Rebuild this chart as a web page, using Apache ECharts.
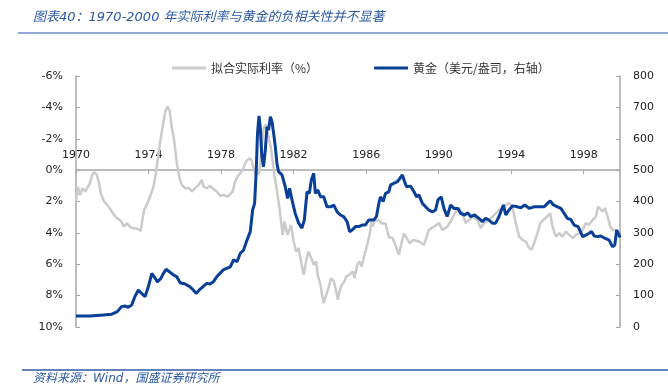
<!DOCTYPE html>
<html><head><meta charset="utf-8">
<script src="https://cdn.jsdelivr.net/npm/echarts@6/dist/echarts.min.js"></script>
<style>html,body{margin:0;padding:0;background:#fff}#c{width:668px;height:390px}</style>
</head><body><div id="c"></div>
<script>
var titleText = '图表40：1970-2000 年实际利率与黄金的负相关性并不显著';
var sourceText = '资料来源：Wind，国盛证券研究所';
var legendRate = '拟合实际利率（%）';
var legendGold = '黄金（美元/盎司，右轴）';
var xTickYears = [1970, 1974, 1978, 1982, 1986, 1990, 1994, 1998];
var leftTicks = [-6, -4, -2, 0, 2, 4, 6, 8, 10];
var rightTicks = [0, 100, 200, 300, 400, 500, 600, 700, 800];

var rateYears = [1970.0,1970.1,1970.22,1970.35,1970.5,1970.62,1970.76,1970.9,1971.0,1971.14,1971.27,1971.36,1971.55,1971.73,1971.92,1972.1,1972.28,1972.47,1972.65,1972.8,1973.02,1973.2,1973.39,1973.57,1973.66,1973.76,1973.9,1974.05,1974.2,1974.3,1974.42,1974.55,1974.73,1974.92,1975.05,1975.16,1975.29,1975.41,1975.56,1975.71,1975.84,1976.02,1976.26,1976.39,1976.57,1976.76,1976.94,1977.03,1977.22,1977.4,1977.59,1977.77,1977.96,1978.14,1978.36,1978.64,1978.77,1978.91,1979.19,1979.37,1979.56,1979.68,1979.79,1979.93,1980.1,1980.2,1980.35,1980.48,1980.6,1980.75,1980.85,1980.94,1981.09,1981.22,1981.31,1981.4,1981.49,1981.67,1981.86,1982.0,1982.14,1982.27,1982.41,1982.56,1982.69,1982.82,1982.97,1983.11,1983.24,1983.33,1983.48,1983.57,1983.66,1983.8,1983.92,1984.07,1984.22,1984.35,1984.44,1984.53,1984.66,1984.81,1984.9,1985.08,1985.27,1985.36,1985.51,1985.64,1985.76,1985.91,1986.06,1986.19,1986.28,1986.37,1986.46,1986.55,1986.69,1986.84,1987.07,1987.26,1987.44,1987.62,1987.81,1987.94,1988.08,1988.22,1988.41,1988.6,1988.91,1989.19,1989.46,1989.74,1990.02,1990.2,1990.48,1990.76,1990.94,1991.12,1991.31,1991.49,1991.68,1991.86,1992.14,1992.32,1992.5,1992.78,1992.97,1993.15,1993.33,1993.52,1993.7,1993.88,1994.07,1994.25,1994.44,1994.62,1994.8,1994.99,1995.12,1995.27,1995.45,1995.6,1995.78,1995.97,1996.15,1996.28,1996.46,1996.65,1996.83,1997.02,1997.2,1997.39,1997.57,1997.75,1997.94,1998.12,1998.3,1998.49,1998.67,1998.8,1998.91,1999.04,1999.17,1999.32,1999.46,1999.6,1999.78,1999.96];
var rateValues = [2.0,1.06,1.6,1.15,1.37,1.13,0.84,0.31,0.14,0.27,0.84,1.48,2.0,2.23,2.54,2.86,3.07,3.24,3.6,3.38,3.66,3.7,3.74,3.87,3.17,2.54,2.2,1.8,1.3,0.9,0.1,-1.07,-2.45,-3.73,-4.05,-3.83,-2.67,-1.92,-0.44,0.52,0.94,1.15,1.15,1.37,1.15,0.94,0.62,1.05,1.15,1.0,1.22,1.37,1.64,1.58,1.69,1.37,0.73,0.41,0.0,-0.54,-0.75,-0.65,-0.12,0.31,0.2,0.1,-2.67,-2.92,-2.24,-1.4,-0.54,0.31,1.37,2.43,3.28,4.13,3.28,4.13,3.49,4.55,5.19,4.97,5.82,6.67,5.82,5.19,5.6,6.04,5.82,6.67,7.31,7.95,8.48,7.95,7.52,6.88,7.09,7.73,8.27,7.73,7.31,7.09,6.77,6.67,6.46,6.88,6.04,5.82,6.15,5.4,4.76,4.13,3.28,3.6,3.28,3.38,3.17,3.38,3.4,4.3,4.3,4.8,5.4,4.7,4.05,4.3,4.66,4.45,4.55,4.76,3.81,3.6,3.38,3.81,3.6,3.07,2.64,2.43,2.75,3.38,3.17,2.96,3.17,3.7,3.38,3.17,2.96,2.75,2.54,2.43,2.22,2.11,2.32,3.38,4.24,4.45,4.55,4.97,5.08,4.66,4.02,3.38,3.17,2.96,2.75,3.6,4.24,4.02,4.24,3.92,4.13,4.34,4.13,4.02,3.81,3.38,3.49,3.17,2.96,2.32,2.22,2.64,2.43,2.96,3.6,3.81,3.81,4.24];

var goldYears = [1970.0,1970.77,1971.5,1971.97,1972.28,1972.52,1972.7,1972.88,1973.07,1973.25,1973.44,1973.62,1973.81,1973.99,1974.18,1974.31,1974.49,1974.68,1974.82,1974.97,1975.15,1975.37,1975.56,1975.74,1976.02,1976.29,1976.47,1976.62,1976.8,1976.99,1977.21,1977.39,1977.57,1977.76,1977.94,1978.12,1978.31,1978.51,1978.69,1978.88,1979.06,1979.24,1979.43,1979.61,1979.74,1979.85,1979.94,1980.01,1980.09,1980.16,1980.25,1980.34,1980.44,1980.53,1980.62,1980.72,1980.81,1980.9,1980.99,1981.08,1981.17,1981.36,1981.54,1981.67,1981.78,1981.91,1982.09,1982.28,1982.46,1982.59,1982.74,1982.87,1982.98,1983.11,1983.2,1983.33,1983.48,1983.66,1983.84,1984.07,1984.21,1984.4,1984.58,1984.76,1984.95,1985.09,1985.23,1985.41,1985.59,1985.78,1985.96,1986.14,1986.42,1986.57,1986.7,1986.79,1986.94,1987.07,1987.25,1987.35,1987.53,1987.72,1987.88,1988.0,1988.12,1988.23,1988.45,1988.64,1988.78,1988.91,1989.1,1989.28,1989.46,1989.65,1989.83,1989.96,1990.14,1990.29,1990.47,1990.66,1990.84,1991.06,1991.21,1991.43,1991.61,1991.76,1991.98,1992.22,1992.41,1992.59,1992.77,1992.96,1993.14,1993.33,1993.46,1993.57,1993.7,1993.88,1994.07,1994.34,1994.53,1994.75,1994.99,1995.26,1995.54,1995.82,1996.0,1996.15,1996.33,1996.55,1996.74,1996.92,1997.1,1997.29,1997.47,1997.69,1997.94,1998.12,1998.3,1998.43,1998.58,1998.76,1998.94,1999.16,1999.4,1999.58,1999.71,1999.82,1999.95,2000.0];
var goldValues = [35,35,38,41,49,65,67,63,70,97,118,107,97,128,171,160,144,155,171,184,176,166,160,141,137,128,118,107,118,128,139,137,144,160,171,182,187,192,214,208,235,245,277,304,373,394,500,617,673,638,543,511,564,638,628,670,654,617,575,522,495,485,447,410,442,405,362,331,315,341,431,426,469,490,426,437,415,415,383,383,389,367,357,352,336,304,309,320,320,325,325,341,341,352,394,415,400,426,431,453,458,463,475,485,463,447,449,431,415,421,394,383,373,367,373,405,415,378,352,389,378,378,362,357,364,352,357,346,336,346,341,331,331,352,373,389,357,373,386,383,380,389,378,383,383,383,394,402,389,383,378,362,346,343,325,320,288,293,299,304,290,288,290,283,277,256,261,309,293,285];

function zip(a, b) { return a.map(function (v, i) { return [v, b[i]]; }); }

var gridTop = 76, gridBottom = 63, chartH = 390;
var plotH = chartH - gridTop - gridBottom;
var leftMin = leftTicks[0], leftMax = leftTicks[leftTicks.length - 1];
// distance (px) of the 0% level above the bottom edge of the plot (inverted axis: bottom = leftMax)
var zeroOffset = -plotH * (leftMax - 0) / (leftMax - leftMin);

var chart = echarts.init(document.getElementById('c'));
var axisColor = '#a6a6a6';
var labelFont = { fontFamily: 'DejaVu Sans', fontSize: 11, color: '#222' };

chart.setOption({
  animation: false,
  grid: { left: 76, right: 48, top: gridTop, bottom: gridBottom },
  legend: {
    left: 167, top: 57, itemGap: 56, itemWidth: 34, itemHeight: 3,
    textStyle: { fontFamily: 'Noto Sans CJK SC', fontSize: 12, color: '#333' },
    data: [{ name: legendRate, icon: 'rect' }, { name: legendGold, icon: 'rect' }]
  },
  xAxis: {
    type: 'value', position: 'bottom', offset: zeroOffset,
    min: xTickYears[0], max: 2000, interval: 4,
    axisLine: { onZero: false, lineStyle: { color: axisColor, width: 1.5 } },
    axisTick: { show: true, inside: false, length: 4, lineStyle: { color: axisColor } },
    axisLabel: Object.assign({ inside: true, margin: 9, showMaxLabel: false, formatter: function (v) { return String(v); } }, labelFont),
    splitLine: { show: false }
  },
  yAxis: [{
    type: 'value', inverse: true, min: leftMin, max: leftMax, interval: 2,
    axisLine: { show: true, onZero: false, lineStyle: { color: axisColor, width: 1.5 } },
    axisTick: { show: true, inside: true, length: 4, lineStyle: { color: axisColor } },
    axisLabel: Object.assign({ margin: 13, formatter: function (v) { return v + '%'; } }, labelFont),
    splitLine: { show: false }
  }, {
    type: 'value', min: rightTicks[0], max: rightTicks[rightTicks.length - 1], interval: 100,
    axisLine: { show: true, onZero: false, lineStyle: { color: axisColor, width: 1.5 } },
    axisTick: { show: true, inside: true, length: 4, lineStyle: { color: axisColor } },
    axisLabel: Object.assign({ margin: 13 }, labelFont),
    splitLine: { show: false }
  }],
  series: [{
    name: legendRate, type: 'line', yAxisIndex: 0, showSymbol: false, symbol: 'none',
    data: zip(rateYears, rateValues),
    lineStyle: { color: '#cbcbcb', width: 2.5 }, itemStyle: { color: '#cbcbcb' }
  }, {
    name: legendGold, type: 'line', yAxisIndex: 1, showSymbol: false, symbol: 'none',
    data: zip(goldYears, goldValues),
    lineStyle: { color: '#0a3f98', width: 3 }, itemStyle: { color: '#0a3f98' }
  }],
  graphic: [
    { type: 'text', left: 33, top: 11, style: { text: titleText, fontFamily: 'DejaVu Sans, Noto Sans CJK SC', fontStyle: 'italic', fontSize: 13, fill: '#2b58a3' } },
    { type: 'line', shape: { x1: 18, y1: 33, x2: 668, y2: 33 }, style: { stroke: '#6d8cc4', lineWidth: 1.5 } },
    { type: 'line', shape: { x1: 22, y1: 370, x2: 668, y2: 370 }, style: { stroke: '#2c5aa0', lineWidth: 1.5 } },
    { type: 'text', left: 33, top: 373, style: { text: sourceText, fontFamily: 'DejaVu Sans, Noto Sans CJK SC', fontStyle: 'italic', fontSize: 12, fill: '#2b58a3' } }
  ]
});
</script></body></html>
